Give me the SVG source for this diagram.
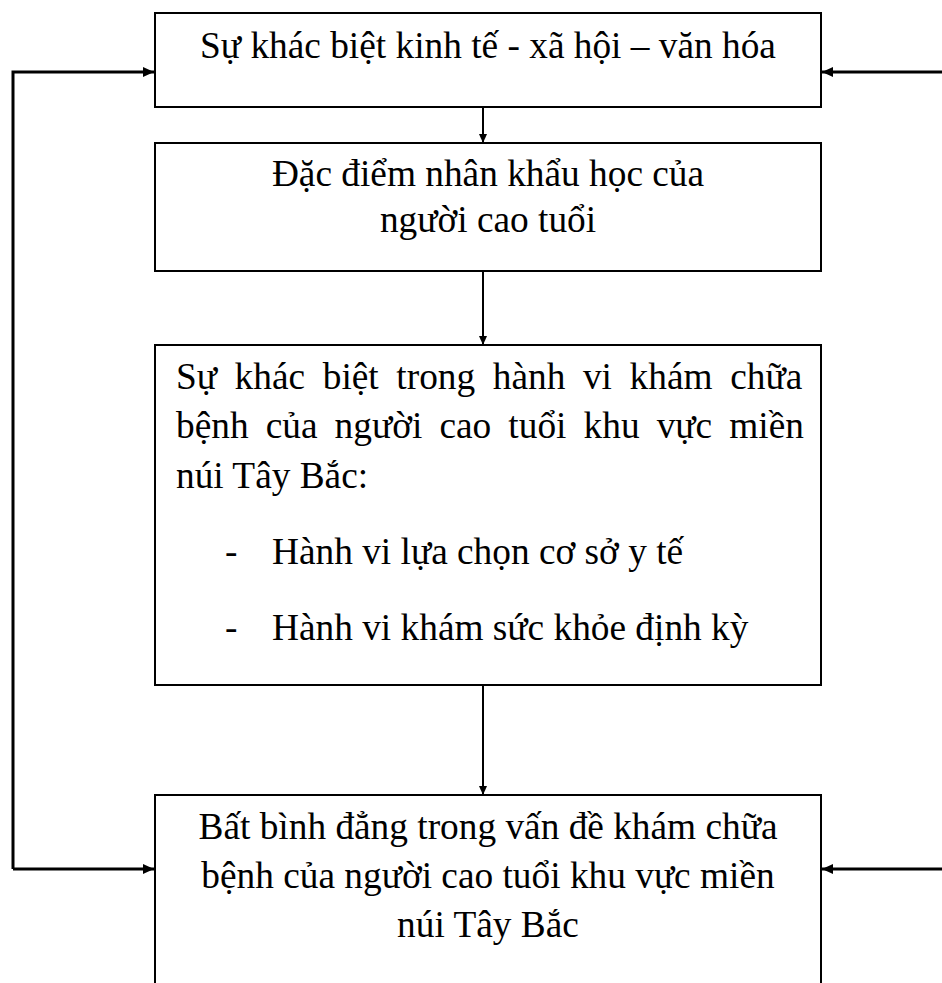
<svg xmlns="http://www.w3.org/2000/svg" width="942" height="983" viewBox="0 0 942 983">
<style>
.box{fill:#fff;stroke:#000;stroke-width:2}
.t{font-family:"Liberation Serif","Times New Roman",serif;font-size:37.33px;fill:#000}
.c{text-anchor:middle}
.con{fill:none;stroke:#000;stroke-width:2}
.side{fill:none;stroke:#000;stroke-width:3}
</style>
<defs>
<marker id="aS" markerUnits="userSpaceOnUse" markerWidth="9" markerHeight="8" refX="9" refY="4" orient="auto"><path d="M0,0 L9,4 L0,8 z" fill="#000"/></marker>
<marker id="aL" markerUnits="userSpaceOnUse" markerWidth="11" markerHeight="10" refX="11" refY="5" orient="auto"><path d="M0,0 L11,5 L0,10 z" fill="#000"/></marker>
</defs>
<rect width="942" height="983" fill="#fff"/>
<g id="n1">
<rect class="box" x="155" y="13" width="666" height="94"/>
<text class="t c" x="488" y="58">Sự khác biệt kinh tế - xã hội – văn hóa</text>
</g>
<g id="n2">
<rect class="box" x="155" y="143" width="666" height="128"/>
<text class="t c" x="488" y="186">Đặc điểm nhân khẩu học của</text>
<text class="t c" x="488" y="232">người cao tuổi</text>
</g>
<g id="n3">
<rect class="box" x="155" y="345" width="666" height="340"/>
<text class="t" x="176" y="389" word-spacing="8.3">Sự khác biệt trong hành vi khám chữa</text>
<text class="t" x="176" y="438" word-spacing="7.8">bệnh của người cao tuổi khu vực miền</text>
<text class="t" x="176" y="488">núi Tây Bắc:</text>
<text class="t" x="225" y="564">-</text>
<text class="t" x="272" y="564">Hành vi lựa chọn cơ sở y tế</text>
<text class="t" x="225" y="640">-</text>
<text class="t" x="272" y="640">Hành vi khám sức khỏe định kỳ</text>
</g>
<g id="n4">
<rect class="box" x="155" y="795" width="666" height="260"/>
<text class="t c" x="488" y="839">Bất bình đẳng trong vấn đề khám chữa</text>
<text class="t c" x="488" y="888">bệnh của người cao tuổi khu vực miền</text>
<text class="t c" x="488" y="937">núi Tây Bắc</text>
</g>
<g id="connectors">
<path class="con" d="M483,108 L483,143" marker-end="url(#aS)"/>
<path class="con" d="M483,272 L483,345" marker-end="url(#aS)"/>
<path class="con" d="M483,686 L483,795" marker-end="url(#aS)"/>
<path class="side" d="M13,869 L13,72 L154,72" marker-end="url(#aL)"/>
<path class="side" d="M13,869 L154,869" marker-end="url(#aL)"/>
<path class="side" d="M942,72 L822,72" marker-end="url(#aL)"/>
<path class="side" d="M942,869 L822,869" marker-end="url(#aL)"/>
</g>
</svg>
